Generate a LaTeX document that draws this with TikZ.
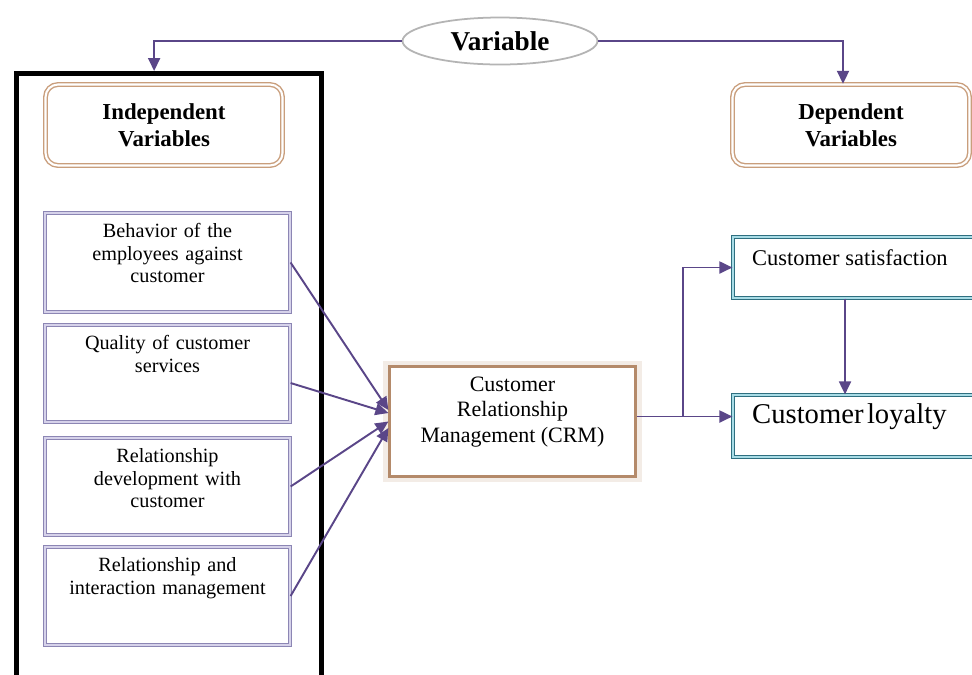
\documentclass[tikz,border=0pt]{standalone}
\usepackage{fontspec}
\setmainfont{Liberation Serif}
\usetikzlibrary{arrows.meta,shapes.geometric,calc}

\definecolor{arrowpurple}{HTML}{5A4688}
\definecolor{lavdark}{HTML}{8C86B4}
\definecolor{lavlight}{HTML}{D6D2EA}
\definecolor{tanline}{HTML}{C99E7C}
\definecolor{crmline}{HTML}{B48A6A}
\definecolor{crmshade}{HTML}{F3ECE6}
\definecolor{tealdark}{HTML}{2F6F80}
\definecolor{teallight}{HTML}{A8DCE6}
\definecolor{ellipsegray}{HTML}{B4B4B4}

\tikzset{
  arr/.style={draw=arrowpurple, line width=1.1pt, -{Triangle[length=0.26cm,width=0.24cm]}},
  titlebox/.style={draw=tanline, line width=0.8pt, double=white, double distance=1.2pt,
    rounded corners=0.25cm, minimum width=4.74cm, minimum height=1.62cm,
    align=center, font=\fontsize{13}{15.5}\selectfont\bfseries},
  factorbox/.style={draw=lavdark, line width=0.7pt, double=lavlight, double distance=1.1pt,
    minimum width=4.9cm, inner sep=0pt},
  factortext/.style={anchor=north, align=center, text width=4.6cm,
    font=\fontsize{11.5}{12.8}\selectfont},
  outcomebox/.style={draw=tealdark, line width=0.7pt, double=teallight, double distance=1.2pt,
    minimum width=5.14cm, inner sep=0pt},
  frame/.style={draw=black, line width=2.9pt}
}

\begin{document}
\begin{tikzpicture}[x=0.02cm,y=-0.02cm]
\useasboundingbox[fill=white] (0,0) rectangle (972,674);

% top "Variable" ellipse
\node[ellipse, draw=ellipsegray, line width=1pt, minimum width=3.9cm, minimum height=0.94cm,
  font=\fontsize{15.5}{18}\selectfont\bfseries] (var) at (500,41) {Variable};

% frame around the independent side (runs off the bottom edge)
\node[frame, minimum width=6.1cm, minimum height=12.6cm, anchor=north west] (ivframe) at (14,71) {};

% headings
\node[titlebox] (ind) at (164,125) {Independent\\Variables};
\node[titlebox] (dep) at (851,125) {Dependent\\Variables};

% independent factors
\node[factorbox, minimum height=1.98cm] (b1) at (167.5,262.5) {};
\node[factorbox, minimum height=1.94cm] (b2) at (167.5,373.5) {};
\node[factorbox, minimum height=1.94cm] (b3) at (167.5,486.5) {};
\node[factorbox, minimum height=1.96cm] (b4) at (167.5,596) {};

\node[factortext] (t1) at ([yshift=-0.1cm]b1.north) {Behavior of the\\employees against\\customer};
\node[factortext] (t2) at ([yshift=-0.1cm]b2.north) {Quality of customer\\services};
\node[factortext] (t3) at ([yshift=-0.1cm]b3.north) {Relationship\\development with\\customer};
\node[factortext] (t4) at ([yshift=-0.1cm]b4.north) {Relationship and\\interaction management};

% CRM box with a soft shaded rim
\node[draw=crmshade, line width=2.5pt, minimum width=5.08cm, minimum height=2.34cm] (crmrim) at (512.5,421.5) {};
\node[draw=crmline, line width=1.3pt, fill=white, minimum width=4.92cm, minimum height=2.2cm] (crm) at (512.5,421.5) {};
\node[align=center, font=\fontsize{12.5}{14.3}\selectfont] (crmtext) at (512.5,412) {Customer\\Relationship\\Management (CRM)};

% dependent outcomes (run off the right edge)
\node[outcomebox, minimum height=1.22cm] (sat) at (861.5,267.5) {};
\node[outcomebox, minimum height=1.24cm] (loy) at (861.5,426) {};
\node[anchor=west, font=\fontsize{12.8}{15}\selectfont] (sattext) at (746,258) {Customer satisfaction};
\node[anchor=west, font=\fontsize{16.3}{19}\selectfont] (loytext) at (746,417) {Customer\hspace{0.12em}loyalty};

% connectors from the heading ellipse
\draw[arr] (var.west) -| ($(ivframe.north west)!0.452!(ivframe.north east)$);
\draw[arr] (var.east) -| ([xshift=-0.16cm]dep.north);

% factors into CRM
\draw[arr] (b1.east) -- ([yshift=0.23cm]crm.west);
\draw[arr] ([yshift=-0.19cm]b2.east) -- ([yshift=0.17cm]crm.west);
\draw[arr] (b3.east) -- (crm.west);
\draw[arr] (b4.east) -- ([yshift=-0.13cm]crm.west);

% CRM into outcomes
\coordinate (split) at (683,416.5);
\draw[arr] ([yshift=0.1cm]crm.east) -- ([yshift=0.1cm]crm.east -| loy.west);
\draw[arr] (split) |- (sat.west);
\draw[arr] ([xshift=-0.33cm]sat.south) -- ([xshift=-0.33cm]loy.north);
\end{tikzpicture}
\end{document}
